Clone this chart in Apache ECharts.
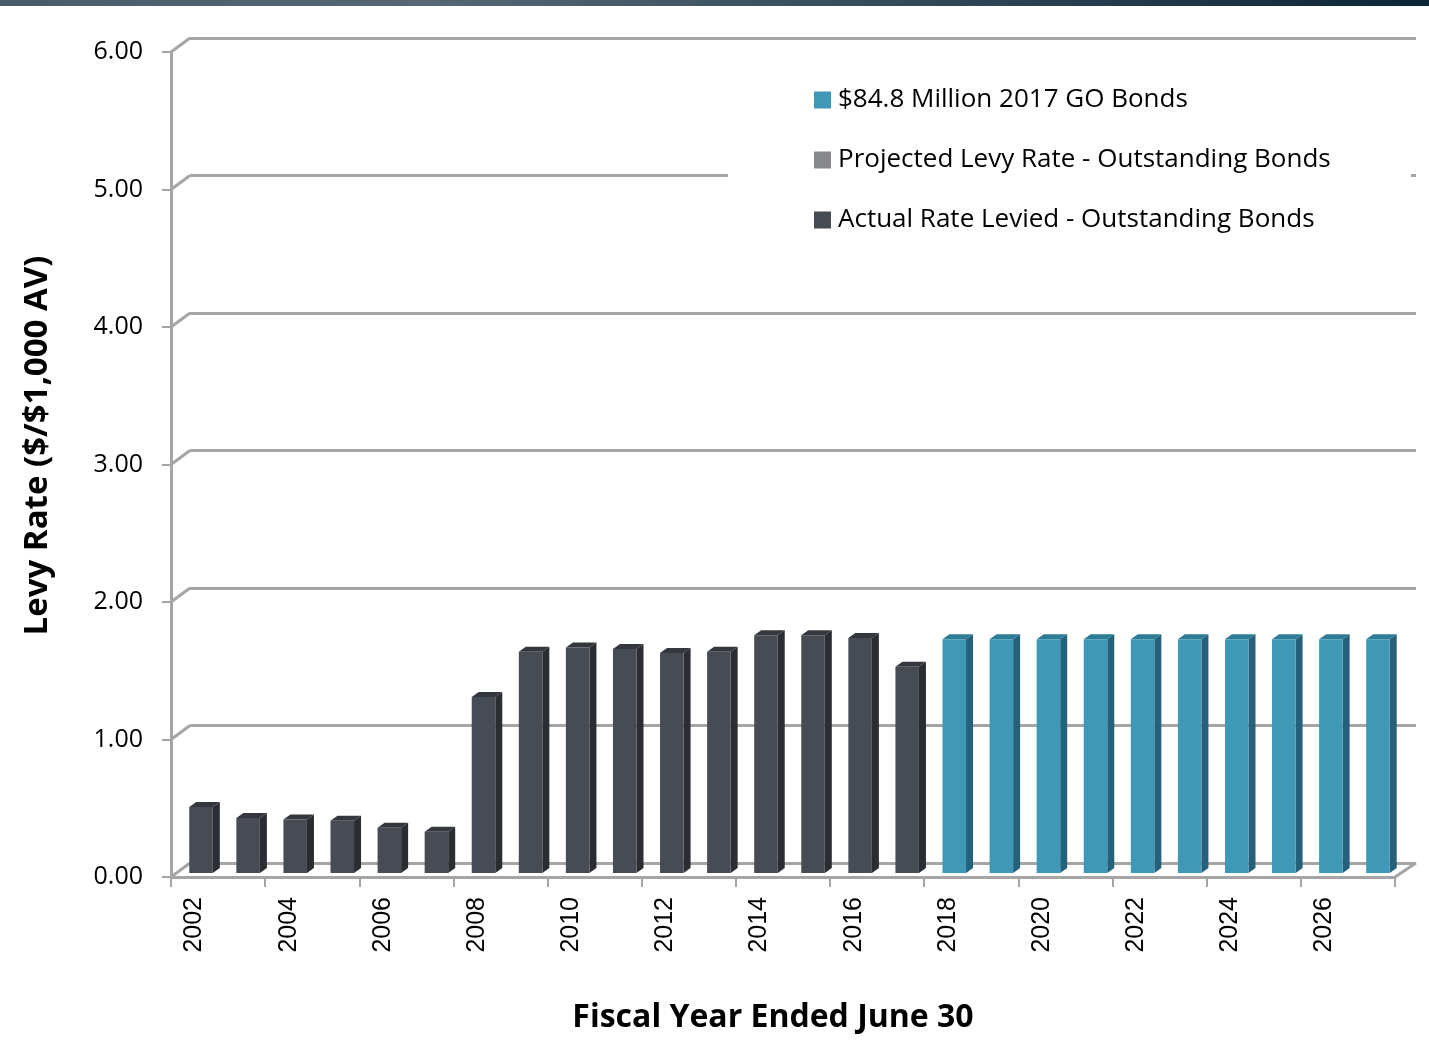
<!DOCTYPE html>
<html>
<head>
<meta charset="utf-8">
<title>Levy Rate</title>
<script src="https://cdn.jsdelivr.net/npm/echarts@6/dist/echarts.min.js"></script>
<style>
  html, body { margin: 0; padding: 0; background: #ffffff; }
  #chart { width: 1429px; height: 1050px; }
</style>
</head>
<body>
<div id="chart"></div>
<script>
// Fiscal years shown on the category axis
const years = ['2002','2003','2004','2005','2006','2007','2008','2009','2010','2011','2012','2013','2014',
  '2015','2016','2017','2018','2019','2020','2021','2022','2023','2024','2025','2026','2027'];

// Actual rate levied for outstanding bonds ($ per $1,000 AV)
const actualRate = [0.48, 0.40, 0.39, 0.38, 0.33, 0.30, 1.28, 1.61, 1.64, 1.63, 1.60, 1.61, 1.73,
  1.73, 1.71, 1.50, null, null, null, null, null, null, null, null, null, null];

// Projected levy rate for outstanding bonds
const projectedRate = [null, null, null, null, null, null, null, null, null, null, null, null, null,
  null, null, null, 0, 0, 0, 0, 0, 0, 0, 0, 0, 0];

// Levy rate for the $84.8 million 2017 GO bonds
const goBondRate = [null, null, null, null, null, null, null, null, null, null, null, null, null,
  null, null, null, 1.70, 1.70, 1.70, 1.70, 1.70, 1.70, 1.70, 1.70, 1.70, 1.70];

// Value-axis tick values
const yTicks = [0, 1, 2, 3, 4, 5, 6];

const seriesNames = {
  go: '$84.8 Million 2017 GO Bonds',
  projected: 'Projected Levy Rate - Outstanding Bonds',
  actual: 'Actual Rate Levied - Outstanding Bonds'
};

// 3D look: faces of each column
const palette = {
  actual: { front: '#474b53', top: '#34373d', side: '#2a2d32' },
  projected: { front: '#87888c', top: '#6e6f73', side: '#5c5d61' },
  go: { front: '#3e98b6', top: '#2d7b95', side: '#25617a' }
};

// depth of the perspective box (back wall offset)
const DEPTH_X = 19, DEPTH_Y = 14;
// column placement inside the depth
const BAR_SHIFT_X = 6.5, BAR_SHIFT_Y = 4, BAR_DX = 7, BAR_DY = 5;

function column(colors) {
  return function (params, api) {
    const v = api.value(1);
    if (v == null || isNaN(v) || v <= 0) return null;
    const top = api.coord([api.value(0), v]);
    const base = api.coord([api.value(0), 0]);
    const band = api.size([1, 0])[0];
    const w = band * 0.5;
    const cx = top[0] + BAR_SHIFT_X;
    const l = cx - w / 2, r = cx + w / 2;
    const yt = top[1] - BAR_SHIFT_Y, yb = base[1] - BAR_SHIFT_Y;
    return {
      type: 'group',
      children: [
        { type: 'polygon', shape: { points: [[r, yt], [r + BAR_DX, yt - BAR_DY], [r + BAR_DX, yb - BAR_DY], [r, yb]] },
          style: { fill: colors.side } },
        { type: 'polygon', shape: { points: [[l, yt], [l + BAR_DX, yt - BAR_DY], [r + BAR_DX, yt - BAR_DY], [r, yt]] },
          style: { fill: colors.top } },
        { type: 'rect', shape: { x: l, y: yt, width: w, height: yb - yt },
          style: { fill: colors.front } }
      ]
    };
  };
}

function pairs(arr) { return arr.map((v, i) => [i, v]); }

const gridColor = '#a5a5a5';

const option = {
  animation: false,
  backgroundColor: '#ffffff',
  graphic: [
    { type: 'rect', left: 0, top: 0, z: 10,
      shape: { width: 1429, height: 6 },
      style: { fill: new echarts.graphic.LinearGradient(0, 0, 1, 0, [
        { offset: 0, color: '#4a5c69' }, { offset: 0.3, color: '#566773' },
        { offset: 0.7, color: '#2b4352' }, { offset: 1, color: '#0c2535' }]) } },
    // legend backdrop
    { type: 'rect', left: 728, top: 70, z: 3,
      shape: { width: 683, height: 170 }, style: { fill: '#ffffff' } }
  ],
  legend: {
    orient: 'vertical',
    left: 814, top: 87,
    padding: 0,
    z: 5,
    data: [seriesNames.go, seriesNames.projected, seriesNames.actual],
    icon: 'rect',
    itemWidth: 17, itemHeight: 17,
    itemGap: 34,
    textStyle: { fontFamily: 'Open Sans', fontSize: 26, color: '#000000', lineHeight: 26, padding: [0, 0, 0, 2] },
    selectedMode: false
  },
  grid: [
    { left: 171, top: 52, width: 1224, height: 825 },   // front axes and columns
    { left: 190, top: 38, width: 1226, height: 825 }    // back wall gridlines
  ],
  xAxis: [
    { type: 'category', gridIndex: 0, data: years, boundaryGap: true,
      axisLine: { show: true, lineStyle: { color: gridColor, width: 3 } },
      axisTick: { show: true, interval: 1, length: 10, lineStyle: { color: gridColor, width: 2 } },
      axisLabel: { interval: 1, rotate: 90, margin: 20, fontFamily: 'Liberation Sans', fontSize: 25, color: '#000000' },
      name: 'Fiscal Year Ended June 30', nameLocation: 'middle', nameGap: 125,
      nameTextStyle: { fontFamily: 'Open Sans', fontWeight: 'bold', fontSize: 32, color: '#000000', padding: [0, 20, 0, 0] }
    },
    { type: 'category', gridIndex: 1, data: years, show: false }
  ],
  yAxis: [
    { type: 'value', gridIndex: 0, min: 0, max: 6, interval: 1,
      axisLine: { show: true, lineStyle: { color: gridColor, width: 3 } },
      axisTick: { show: true, length: 9, lineStyle: { color: gridColor, width: 2 } },
      splitLine: { show: false },
      axisLabel: { margin: 28, fontFamily: 'Open Sans', fontSize: 25, color: '#000000',
        formatter: v => v.toFixed(2), padding: [8, 0, 0, 0] },
      name: 'Levy Rate ($/$1,000 AV)', nameLocation: 'middle', nameRotate: 90, nameGap: 117,
      nameTextStyle: { fontFamily: 'Open Sans', fontWeight: 'bold', fontSize: 33, color: '#000000', padding: [0, 0, 0, 38] }
    },
    { type: 'value', gridIndex: 1, min: 0, max: 6, interval: 1,
      axisLine: { show: false }, axisTick: { show: false }, axisLabel: { show: false },
      splitLine: { show: true, lineStyle: { color: gridColor, width: 3 } }
    }
  ],
  series: [
    // side connectors from the front value axis to the back wall gridlines
    { type: 'custom', name: 'wallEdges', xAxisIndex: 0, yAxisIndex: 0, silent: true,
      data: yTicks.map(v => [0, v]),
      renderItem: function (params, api) {
        const y = api.coord([0, api.value(1)])[1];
        const x = params.coordSys.x;
        return { type: 'line', shape: { x1: x, y1: y, x2: x + DEPTH_X, y2: y - DEPTH_Y },
          style: { stroke: gridColor, lineWidth: 3 } };
      }
    },
    // right-hand floor edge
    { type: 'custom', name: 'floorEdge', xAxisIndex: 0, yAxisIndex: 0, silent: true,
      data: [[years.length - 1, 0]],
      renderItem: function (params, api) {
        const y = api.coord([0, 0])[1];
        const x = params.coordSys.x + params.coordSys.width;
        return { type: 'line', shape: { x1: x, y1: y, x2: x + DEPTH_X + 2, y2: y - DEPTH_Y },
          style: { stroke: gridColor, lineWidth: 3 } };
      }
    },
    { type: 'custom', name: seriesNames.actual, xAxisIndex: 0, yAxisIndex: 0,
      itemStyle: { color: palette.actual.front },
      data: pairs(actualRate), renderItem: column(palette.actual) },
    { type: 'custom', name: seriesNames.projected, xAxisIndex: 0, yAxisIndex: 0,
      itemStyle: { color: palette.projected.front },
      data: pairs(projectedRate), renderItem: column(palette.projected) },
    { type: 'custom', name: seriesNames.go, xAxisIndex: 0, yAxisIndex: 0,
      itemStyle: { color: palette.go.front },
      data: pairs(goBondRate), renderItem: column(palette.go) }
  ]
};

const chart = echarts.init(document.getElementById('chart'), null, { renderer: 'canvas' });
chart.setOption(option);
</script>
</body>
</html>
